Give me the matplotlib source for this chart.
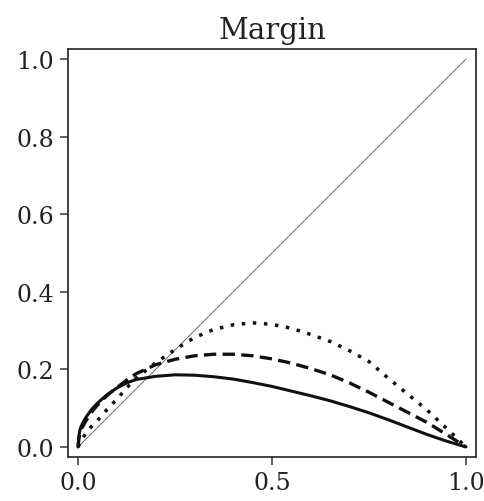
import numpy as np
import matplotlib
matplotlib.use("Agg")
import matplotlib.pyplot as plt

plt.rcParams["font.family"] = ["DejaVu Serif"]

# values
x_solid = [0.0, 0.002, 0.005, 0.01, 0.02, 0.035, 0.05, 0.075, 0.1, 0.125, 0.15, 0.2,
           0.25, 0.3, 0.35, 0.4, 0.45, 0.5, 0.55, 0.6, 0.65, 0.7, 0.75, 0.8, 0.85,
           0.9, 0.95, 1.0]
y_solid = [0.0, 0.028, 0.045, 0.058, 0.076, 0.097, 0.113, 0.135, 0.152, 0.165, 0.174,
           0.182, 0.186, 0.185, 0.181, 0.175, 0.166, 0.156, 0.144, 0.132, 0.119,
           0.104, 0.088, 0.07, 0.051, 0.032, 0.015, 0.0]

x_dash = [0.0, 0.002, 0.005, 0.01, 0.02, 0.035, 0.05, 0.075, 0.1, 0.125, 0.15, 0.2,
          0.25, 0.3, 0.35, 0.4, 0.45, 0.5, 0.55, 0.6, 0.65, 0.7, 0.75, 0.8, 0.85,
          0.9, 0.95, 1.0]
y_dash = [0.0, 0.022, 0.036, 0.049, 0.067, 0.09, 0.108, 0.133, 0.153, 0.172, 0.189,
          0.212, 0.226, 0.235, 0.239, 0.239, 0.235, 0.227, 0.216, 0.202, 0.186,
          0.165, 0.141, 0.115, 0.089, 0.063, 0.032, 0.0]

x_dot = [0.0, 0.01, 0.02, 0.035, 0.05, 0.075, 0.1, 0.125, 0.15, 0.2, 0.25, 0.3,
         0.35, 0.4, 0.45, 0.5, 0.55, 0.6, 0.65, 0.7, 0.75, 0.8, 0.85, 0.9, 0.95,
         1.0]
y_dot = [0.0, 0.02, 0.035, 0.053, 0.068, 0.097, 0.123, 0.152, 0.178, 0.217, 0.251,
         0.282, 0.303, 0.315, 0.32, 0.316, 0.306, 0.29, 0.272, 0.248, 0.22,
         0.177, 0.136, 0.095, 0.048, 0.0]

ref_x = [0.0, 1.0]
ref_y = [0.0, 1.0]

fig = plt.figure(figsize=(4.84, 5.02), dpi=100)
ax = fig.add_axes([0.1405, 0.0876, 0.843, 0.8128])

ax.plot(ref_x, ref_y, color="#555555", lw=0.6)
ax.plot(x_solid, y_solid, color="#111111", lw=2.2, solid_capstyle="round")
ax.plot(x_dash, y_dash, color="#111111", lw=2.4, dashes=(3.7, 1.9))
ax.plot(x_dot, y_dot, color="#111111", lw=2.5, dashes=(1.0, 2.2))

ax.set_title("Margin", fontsize=21, pad=8, color="#222222")
ax.set_xticks([0.0, 0.5, 1.0])
ax.set_yticks([0.0, 0.2, 0.4, 0.6, 0.8, 1.0])
ax.set_xticklabels(["0.0", "0.5", "1.0"])
ax.set_yticklabels(["0.0", "0.2", "0.4", "0.6", "0.8", "1.0"])
ax.tick_params(labelsize=17, length=6, width=1.1, color="#333333",
               labelcolor="#222222", pad=4)
ax.margins(0.026)
for s in ax.spines.values():
    s.set_linewidth(1.3)
    s.set_color("#333333")

fig.savefig("out.png", dpi=100)
